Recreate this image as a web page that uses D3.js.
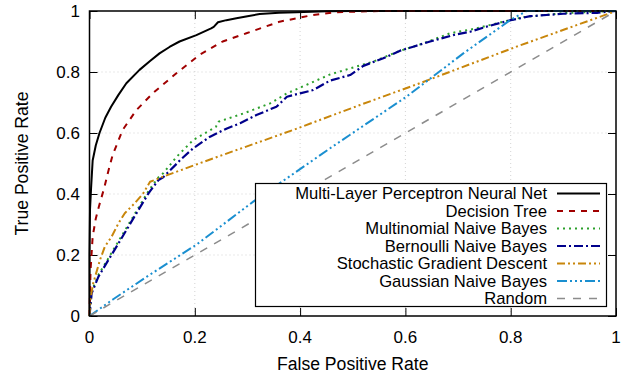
<!DOCTYPE html>
<html>
<head>
<meta charset="utf-8">
<script src="https://cdn.jsdelivr.net/npm/d3@7"></script>
<style>
  html, body { margin: 0; padding: 0; background: #fff; }
  svg { display: block; font-family: "Liberation Sans", Arial, Helvetica, sans-serif; }
</style>
</head>
<body>
<svg id="chart" width="629" height="377"></svg>
<script>
// ---- Data ----
const xTicks = [0, 0.2, 0.4, 0.6, 0.8, 1];
const yTicks = [0, 0.2, 0.4, 0.6, 0.8, 1];
const xTickLabels = ["0", "0.2", "0.4", "0.6", "0.8", "1"];
const yTickLabels = ["0", "0.2", "0.4", "0.6", "0.8", "1"];
const xTitle = "False Positive Rate";
const yTitle = "True Positive Rate";

const seriesNames = [
  "Multi-Layer Perceptron Neural Net",
  "Decision Tree",
  "Multinomial Naive Bayes",
  "Bernoulli Naive Bayes",
  "Stochastic Gradient Descent",
  "Gaussian Naive Bayes",
  "Random"
];

const mlp = [[0,0],[0,0.2],[0.001,0.35],[0.003,0.42],[0.006,0.51],[0.012,0.56],[0.019,0.6],[0.03,0.65],
  [0.041,0.686],[0.055,0.725],[0.07,0.763],[0.095,0.807],[0.115,0.836],[0.133,0.861],[0.152,0.882],
  [0.171,0.9],[0.203,0.921],[0.231,0.943],[0.236,0.948],[0.244,0.963],[0.26,0.97],[0.279,0.976],
  [0.3,0.983],[0.323,0.99],[0.36,0.994],[0.393,0.996],[0.45,0.999],[0.5,1],[1,1]];

const decisionTree = [[0,0],[0.001,0.08],[0.002,0.15],[0.006,0.26],[0.012,0.32],[0.018,0.36],[0.028,0.42],
  [0.035,0.47],[0.044,0.528],[0.063,0.61],[0.089,0.675],[0.12,0.73],[0.165,0.796],[0.209,0.856],
  [0.253,0.9],[0.298,0.927],[0.361,0.965],[0.425,0.987],[0.469,0.996],[0.55,1],[1,1]];

const multinomialNB = [[0,0],[0.004,0.08],[0.017,0.135],[0.036,0.19],[0.055,0.245],[0.074,0.3],[0.093,0.355],
  [0.112,0.41],[0.131,0.455],[0.14,0.468],[0.166,0.523],[0.197,0.577],[0.24,0.62],[0.245,0.637],
  [0.292,0.664],[0.343,0.697],[0.375,0.73],[0.419,0.763],[0.457,0.792],[0.495,0.812],[0.539,0.834],
  [0.584,0.866],[0.634,0.894],[0.685,0.927],[0.735,0.943],[0.786,0.965],[0.824,0.98],[0.9,0.993],[1,1]];

const bernoulliNB = [[0,0],[0.004,0.074],[0.017,0.129],[0.036,0.184],[0.055,0.238],[0.074,0.293],[0.093,0.348],
  [0.112,0.402],[0.131,0.446],[0.14,0.455],[0.166,0.5],[0.172,0.511],[0.197,0.55],[0.229,0.588],
  [0.261,0.615],[0.286,0.632],[0.317,0.659],[0.355,0.686],[0.362,0.697],[0.375,0.719],[0.4,0.73],
  [0.425,0.741],[0.457,0.772],[0.495,0.79],[0.52,0.82],[0.558,0.845],[0.59,0.87],[0.615,0.883],
  [0.647,0.9],[0.691,0.921],[0.723,0.932],[0.755,0.949],[0.8,0.97],[0.837,0.983],[0.9,0.991],
  [0.964,0.994],[1,1]];

const sgd = [[0,0],[0.002,0.06],[0.007,0.107],[0.02,0.184],[0.029,0.227],[0.042,0.26],[0.055,0.304],
  [0.067,0.337],[0.086,0.37],[0.102,0.402],[0.115,0.44],[0.124,0.446],[0.14,0.457],[0.235,0.517],
  [0.387,0.61],[0.514,0.692],[0.627,0.763],[0.811,0.883],[1,1]];

const gaussianNB = [[0,0],[0.045,0.055],[0.109,0.129],[0.204,0.235],[0.311,0.375],[0.457,0.55],
  [0.602,0.719],[0.71,0.861],[0.799,0.97],[0.83,1],[1,1]];

const randomLine = [[0,0],[1,1]];

const seriesData = [mlp, decisionTree, multinomialNB, bernoulliNB, sgd, gaussianNB, randomLine];
const seriesColors = ["#000000", "#a00000", "#2ca02c", "#00008b", "#c8860b", "#1a8fd0", "#8c8c8c"];
const seriesDash = ["", "6,6", "2,4", "9,3,2,3", "8,3,2,3,2,3", "10,3,2,3,2,3,2,3", "8,8"];
const seriesWidth = [2, 2, 2, 2.2, 2, 2, 1.5];

// ---- Layout ----
const svg = d3.select("#chart");
const x = d3.scaleLinear().domain([0, 1]).range([89.5, 616]);
const y = d3.scaleLinear().domain([0, 1]).range([316, 11]);

// grid
const grid = svg.append("g");
xTicks.filter(t => t > 0 && t < 1).forEach(t => {
  grid.append("line").attr("x1", x(t)).attr("x2", x(t)).attr("y1", y(0)).attr("y2", y(1))
    .attr("stroke", "#c8c8c8").attr("stroke-width", 0.8).attr("stroke-dasharray", "1,3");
});
yTicks.filter(t => t > 0 && t < 1).forEach(t => {
  grid.append("line").attr("x1", x(0)).attr("x2", x(1)).attr("y1", y(t)).attr("y2", y(t))
    .attr("stroke", "#c8c8c8").attr("stroke-width", 0.8).attr("stroke-dasharray", "1,3");
});

// axes (inward ticks, mirrored)
const tickLen = 8;
const bottomAxis = d3.axisBottom(x).tickValues(xTicks).tickSize(-tickLen).tickFormat("");
const topAxis = d3.axisTop(x).tickValues(xTicks).tickSize(-tickLen).tickFormat("");
const leftAxis = d3.axisLeft(y).tickValues(yTicks).tickSize(-tickLen).tickFormat("");
const rightAxis = d3.axisRight(y).tickValues(yTicks).tickSize(-tickLen).tickFormat("");

function styleAxis(g) {
  g.select(".domain").remove();
  g.selectAll(".tick line").attr("stroke", "#000").attr("stroke-width", 1);
}
svg.append("g").attr("transform", `translate(0,${y(0)})`).call(bottomAxis).call(styleAxis);
svg.append("g").attr("transform", `translate(0,${y(1)})`).call(topAxis).call(styleAxis);
svg.append("g").attr("transform", `translate(${x(0)},0)`).call(leftAxis).call(styleAxis);
svg.append("g").attr("transform", `translate(${x(1)},0)`).call(rightAxis).call(styleAxis);

// tick labels
svg.append("g").selectAll("text").data(xTicks).join("text")
  .attr("x", d => x(d)).attr("y", 343)
  .attr("text-anchor", "middle").attr("font-size", 17).attr("fill", "#000")
  .text((d, i) => xTickLabels[i]);
svg.append("g").selectAll("text").data(yTicks).join("text")
  .attr("x", 80).attr("y", d => y(d) + 6)
  .attr("text-anchor", "end").attr("font-size", 17).attr("fill", "#000")
  .text((d, i) => yTickLabels[i]);

// axis titles
svg.append("text").attr("x", (x(0) + x(1)) / 2).attr("y", 370)
  .attr("text-anchor", "middle").attr("font-size", 17.6).text(xTitle);
svg.append("text").attr("transform", `translate(28,${(y(0) + y(1)) / 2}) rotate(-90)`)
  .attr("text-anchor", "middle").attr("font-size", 17.6).text(yTitle);

// curves
const line = d3.line().x(d => x(d[0])).y(d => y(d[1]));
const curves = svg.append("g");
seriesData.forEach((data, i) => {
  curves.append("path").datum(data).attr("d", line)
    .attr("fill", "none").attr("stroke", seriesColors[i])
    .attr("stroke-width", seriesWidth[i])
    .attr("stroke-dasharray", seriesDash[i] || null)
    .attr("stroke-linejoin", "round");
});

// legend
const legend = svg.append("g");
legend.append("rect").attr("x", 255.5).attr("y", 183.5).attr("width", 351).attr("height", 123)
  .attr("fill", "#fff").attr("stroke", "#000").attr("stroke-width", 1.2);
seriesNames.forEach((name, i) => {
  const ly = 193.5 + i * 17.5;
  legend.append("text").attr("x", 547).attr("y", ly + 5.5)
    .attr("text-anchor", "end").attr("font-size", 16.6).attr("fill", "#000").text(name);
  legend.append("line").attr("x1", 557).attr("x2", 600).attr("y1", ly).attr("y2", ly)
    .attr("stroke", seriesColors[i]).attr("stroke-width", seriesWidth[i])
    .attr("stroke-dasharray", seriesDash[i] || null);
});

// border
svg.append("rect").attr("x", x(0)).attr("y", y(1)).attr("width", x(1) - x(0)).attr("height", y(0) - y(1))
  .attr("fill", "none").attr("stroke", "#000").attr("stroke-width", 1.5);
</script>
</body>
</html>
